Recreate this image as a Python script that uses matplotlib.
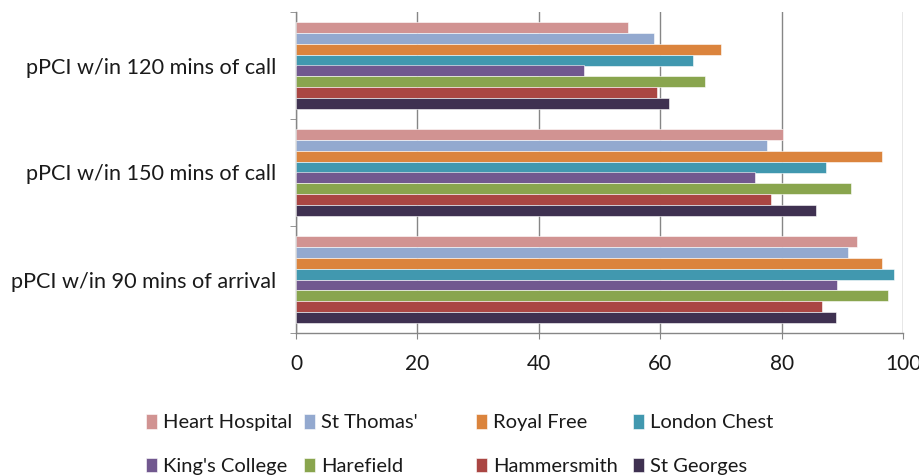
import numpy as np
import matplotlib.pyplot as plt

plt.rcParams['font.family'] = ['Lato', 'DejaVu Sans']

# categories bottom -> top
categories = ["pPCI w/in 90 mins of arrival", "pPCI w/in 150 mins of call", "pPCI w/in 120 mins of call"]

hospitals = ["Heart Hospital", "St Thomas'", "Royal Free", "London Chest",
             "King's College", "Harefield", "Hammersmith", "St Georges"]

# values per hospital, same order as categories
heart_hospital = [92.5, 80.3, 54.7]
st_thomas = [90.9, 77.6, 59.0]
royal_free = [96.5, 96.5, 70.0]
london_chest = [98.5, 87.3, 65.4]
kings_college = [89.2, 75.6, 47.5]
harefield = [97.5, 91.5, 67.3]
hammersmith = [86.6, 78.3, 59.4]
st_georges = [88.9, 85.6, 61.4]

series = [heart_hospital, st_thomas, royal_free, london_chest,
          kings_college, harefield, hammersmith, st_georges]
colors = ['#D19392', '#93A9CF', '#DB843D', '#4198AF',
          '#71588F', '#89A54E', '#AA4643', '#3F3151']

x_ticks = [0, 20, 40, 60, 80, 100]

text_col = '#1a1a1a'
axis_col = '#868686'

fig = plt.figure(figsize=(9.2, 4.76), dpi=100)
ax = fig.add_axes([296/920, 1 - 333/476, (903 - 296)/920, (333 - 12)/476])

n = len(series)
h = 0.82 / n
ypos = np.arange(len(categories))
bars = []
for j, (vals, col) in enumerate(zip(series, colors)):
    b = ax.barh(ypos + (n/2 - 0.5 - j) * h, vals, height=h, color=col,
                edgecolor='white', linewidth=0.4, zorder=3)
    bars.append(b)

ax.set_xlim(0, 100)
ax.set_ylim(-0.5, len(categories) - 0.5)
ax.set_xticks(x_ticks)
ax.set_xticklabels([str(t) for t in x_ticks], fontsize=15, color=text_col)
ax.set_yticks(ypos)
ax.set_yticklabels(categories, fontsize=15.6, color=text_col)
ax.set_yticks(np.arange(-0.5, len(categories)), minor=True)

ax.tick_params(axis='y', which='major', length=0, pad=14)
ax.tick_params(axis='y', which='minor', length=4, color=axis_col, direction='out')
ax.tick_params(axis='x', which='major', length=4, color=axis_col, direction='out', pad=11)

ax.grid(axis='x', color=axis_col, linewidth=1.0, zorder=0)
ax.set_axisbelow(True)
for s in ['top', 'right']:
    ax.spines[s].set_visible(False)
for s in ['left', 'bottom']:
    ax.spines[s].set_color(axis_col)
    ax.spines[s].set_linewidth(1.0)

# legend in 4 columns, row 1: first four, row 2: last four
col_x = [146, 304, 476, 633]
for c in range(4):
    hs = [bars[c][0], bars[c + 4][0]]
    ls = [hospitals[c], hospitals[c + 4]]
    fig.legend(hs, ls, loc='upper left', bbox_to_anchor=(col_x[c]/920, 1 - 414/476),
               frameon=False, fontsize=14.5, labelcolor=text_col,
               handlelength=0.55, handleheight=0.75, handletextpad=0.3,
               labelspacing=1.3, borderpad=0, borderaxespad=0)

fig.savefig('out.png', dpi=100)
